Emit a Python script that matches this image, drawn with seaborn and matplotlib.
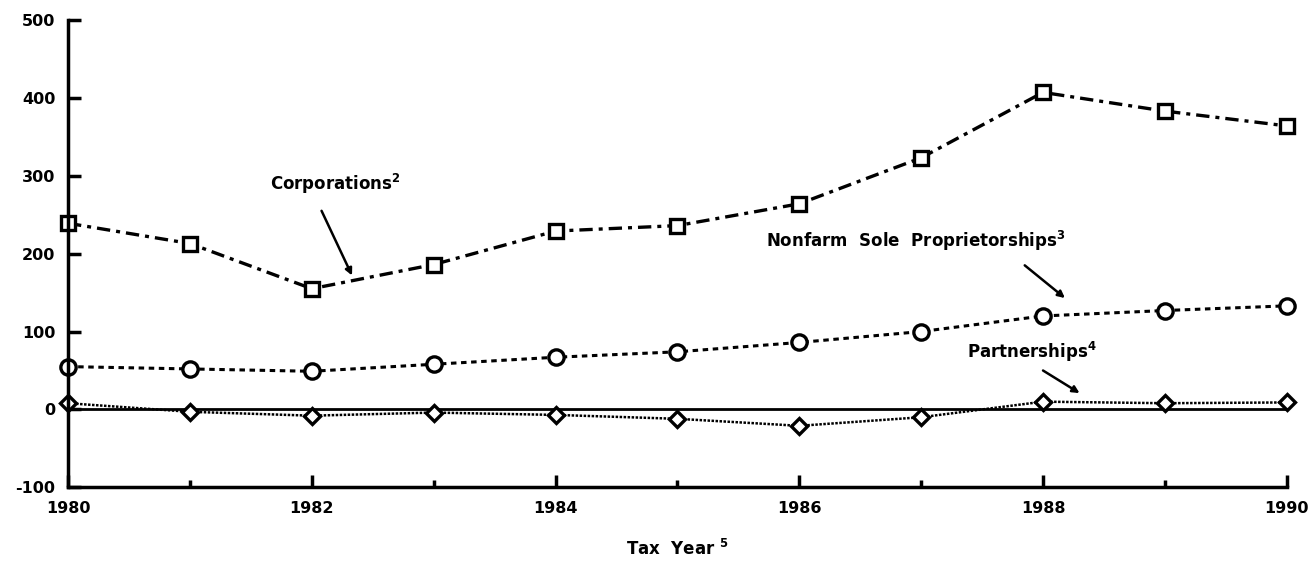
"""Business net income by form of organization, tax years 1980-1990."""

import matplotlib
matplotlib.use("Agg")
import matplotlib.pyplot as plt
from matplotlib.ticker import MultipleLocator
import pandas as pd
import seaborn as sns

years = list(range(1980, 1991))
corporations = [239, 213, 155, 186, 229, 236, 264, 323, 407, 383, 364]
nonfarm_sole = [55, 52, 49, 58, 67, 74, 86, 100, 120, 127, 133]
partnerships = [8, -3, -8, -4, -7, -12, -21, -10, 10, 8, 9]

y_ticks = [-100, 0, 100, 200, 300, 400, 500]
x_labels = [1980, 1982, 1984, 1986, 1988, 1990]

sns.set_theme(style="white")
plt.rcParams["font.family"] = ["DejaVu Sans"]
plt.rcParams["mathtext.fontset"] = "custom"
plt.rcParams["mathtext.bf"] = "DejaVu Sans:bold"
plt.rcParams["mathtext.rm"] = "DejaVu Sans:bold"
plt.rcParams["text.color"] = "black"
plt.rcParams["axes.labelcolor"] = "black"
plt.rcParams["xtick.color"] = "black"
plt.rcParams["ytick.color"] = "black"

df = pd.DataFrame({
    "year": years,
    "corporations": corporations,
    "nonfarm": nonfarm_sole,
    "partnerships": partnerships,
})

fig = plt.figure(figsize=(13.09, 5.70), dpi=100)
ax = fig.add_axes([0.052, 0.145, 0.931, 0.82])

# zero reference line
ax.axhline(0, color="black", linewidth=2, zorder=1)

sns.lineplot(data=df, x="year", y="partnerships", ax=ax, color="black",
             linewidth=1.8, linestyle=(0, (1, 0.6)), marker="D", markersize=8,
             markerfacecolor="white", markeredgecolor="black", markeredgewidth=2.4,
             zorder=3)
sns.lineplot(data=df, x="year", y="nonfarm", ax=ax, color="black",
             linewidth=2.2, linestyle=(0, (1.8, 1.5)), marker="o", markersize=11,
             markerfacecolor="white", markeredgecolor="black", markeredgewidth=2.4,
             zorder=3)
sns.lineplot(data=df, x="year", y="corporations", ax=ax, color="black",
             linewidth=2.4, linestyle=(0, (4, 1.8, 1.2, 1.8)), marker="s", markersize=10,
             markerfacecolor="white", markeredgecolor="black", markeredgewidth=2.4,
             zorder=3)

ax.set_xlim(1980, 1990)
ax.set_ylim(-100, 500)
ax.set_yticks(y_ticks)
ax.set_yticklabels([str(v) for v in y_ticks])
ax.set_xticks(x_labels)
ax.set_xticklabels([str(v) for v in x_labels])
ax.xaxis.set_minor_locator(MultipleLocator(1))

for side in ["top", "right"]:
    ax.spines[side].set_visible(False)
for side in ["left", "bottom"]:
    ax.spines[side].set_linewidth(2.5)
    ax.spines[side].set_color("black")

ax.tick_params(axis="y", direction="in", length=9, width=2.5, labelsize=11.5,
               pad=9, left=True, colors="black")
ax.tick_params(axis="x", which="major", direction="in", length=9, width=2.5,
               labelsize=11.5, pad=10, bottom=True, colors="black")
ax.tick_params(axis="x", which="minor", direction="in", length=5, width=2.5,
               bottom=True, colors="black")
for lbl in ax.get_xticklabels() + ax.get_yticklabels():
    lbl.set_fontweight("bold")

ax.set_ylabel("")
ax.set_xlabel(r"Tax  Year $^{5}$", fontsize=12, fontweight="bold", labelpad=16,
              color="black")

arrow = dict(arrowstyle="-|>", color="black", lw=1.8, shrinkA=0, shrinkB=0,
             mutation_scale=10)

ax.text(1981.66, 290, r"Corporations$^{2}$", fontsize=12, fontweight="bold",
        ha="left", va="center", color="black")
ax.annotate("", xy=(1982.33, 172), xytext=(1982.08, 255), arrowprops=arrow)

ax.text(1985.73, 216, r"Nonfarm  Sole  Proprietorships$^{3}$", fontsize=12,
        fontweight="bold", ha="left", va="center", color="black")
ax.annotate("", xy=(1988.18, 143), xytext=(1987.85, 185), arrowprops=arrow)

ax.text(1987.38, 74, r"Partnerships$^{4}$", fontsize=12, fontweight="bold",
        ha="left", va="center", color="black")
ax.annotate("", xy=(1988.30, 21), xytext=(1988.0, 50), arrowprops=arrow)

for spine in ax.spines.values():
    spine.set_zorder(4)
for line in ax.lines:
    line.set_clip_on(False)

fig.savefig("out.png", dpi=100)
